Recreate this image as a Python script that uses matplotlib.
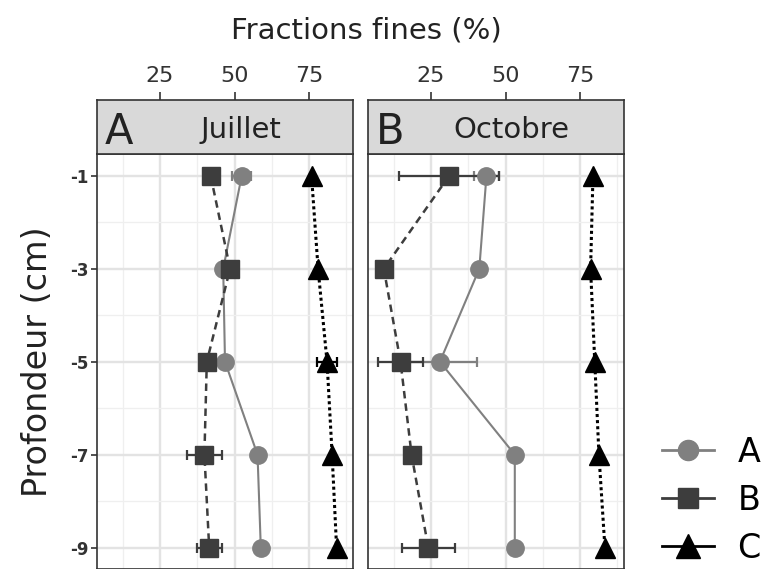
import numpy as np
import matplotlib
matplotlib.use("Agg")
import matplotlib.pyplot as plt
from matplotlib.lines import Line2D
from matplotlib.ticker import MultipleLocator

plt.rcParams["axes.unicode_minus"] = False

# data
depths = [-1, -3, -5, -7, -9]
panels = ["Juillet", "Octobre"]
letters = ["A", "B"]

# Juillet
jul_A = [52.4, 46.2, 46.8, 57.7, 58.8]
jul_A_err = [3.2, 0, 0, 0, 0]
jul_B = [42.0, 48.5, 40.7, 39.9, 41.5]
jul_B_err = [0, 1.5, 1.5, 6.0, 4.2]
jul_C = [75.8, 78.0, 81.0, 82.7, 84.2]
jul_C_err = [0, 0, 3.5, 0, 0]

# Octobre
oct_A = [43.6, 41.2, 28.0, 53.1, 53.1]
oct_A_err = [4.3, 0, 12.5, 0, 0]
oct_B = [31.1, 9.2, 14.8, 18.5, 24.1]
oct_B_err = [16.7, 0, 7.5, 2.0, 8.9]
oct_C = [79.3, 78.5, 79.9, 81.3, 83.3]
oct_C_err = [0, 0, 0, 0, 0]

series = ["A", "B", "C"]
colors = {"A": "#808080", "B": "#3d3d3d", "C": "#000000"}
markers = {"A": "o", "B": "s", "C": "^"}
msizes = {"A": 12.5, "B": 13, "C": 15}
styles = {"A": "-", "B": (0, (3, 2)), "C": (0, (1, 1))}
lwidths = {"A": 1.5, "B": 1.8, "C": 2.2}

data = [
    {"A": (jul_A, jul_A_err), "B": (jul_B, jul_B_err), "C": (jul_C, jul_C_err)},
    {"A": (oct_A, oct_A_err), "B": (oct_B, oct_B_err), "C": (oct_C, oct_C_err)},
]

W, H = 769, 569
fig = plt.figure(figsize=(W / 100, H / 100), dpi=100)

xlim = (4, 89.8)
ylim = (-9.46, -0.53)
panel_lefts = [97.3, 368.3]
pw = 256
top_px = 154
strip_h = 54
dark = "#333333"

for i, name in enumerate(panels):
    ax = fig.add_axes([panel_lefts[i] / W, 0, pw / W, (H - top_px) / H])
    ax.set_xlim(xlim)
    ax.set_ylim(ylim)
    ax.xaxis.set_major_locator(MultipleLocator(25))
    ax.xaxis.set_minor_locator(MultipleLocator(12.5))
    ax.set_yticks(depths)
    ax.yaxis.set_minor_locator(MultipleLocator(1))
    ax.grid(which="major", color="#e3e3e3", lw=1.7)
    ax.grid(which="minor", color="#efefef", lw=0.9)
    ax.set_axisbelow(True)
    ax.tick_params(axis="x", which="both", bottom=False, labelbottom=False)
    ax.tick_params(axis="y", which="minor", left=False)
    if i == 0:
        ax.tick_params(axis="y", which="major", length=4, width=1.2, color=dark,
                       labelsize=12, labelcolor=dark, pad=2)
        for lab in ax.get_yticklabels():
            lab.set_fontweight("bold")
        ax.set_ylabel("Profondeur (cm)", fontsize=24, labelpad=12, color="#222222")
    else:
        ax.tick_params(axis="y", which="major", left=False, labelleft=False)
    for sp in ax.spines.values():
        sp.set_color(dark)
        sp.set_linewidth(1.2)

    for s in series:
        vals, err = data[i][s]
        ax.errorbar(vals, depths, xerr=err, fmt="none", ecolor=colors[s],
                    elinewidth=1.6, capsize=3.5, capthick=1.6, zorder=2)
        ax.plot(vals, depths, color=colors[s], ls=styles[s], lw=lwidths[s],
                marker=markers[s], ms=msizes[s], mec=colors[s], mfc=colors[s],
                zorder=3)

    # strip on top holding the x axis
    st = fig.add_axes([panel_lefts[i] / W, (H - top_px) / H, pw / W, strip_h / H])
    st.set_xlim(xlim)
    st.set_ylim(0, 1)
    st.set_facecolor("#d9d9d9")
    st.set_yticks([])
    st.xaxis.tick_top()
    st.set_xticks([25, 50, 75])
    st.tick_params(axis="x", length=6, width=1.2, color=dark, labelsize=16,
                   labelcolor=dark, pad=4)
    for sp in st.spines.values():
        sp.set_color(dark)
        sp.set_linewidth(1.2)
    st.text(0.03, 0.40, letters[i], transform=st.transAxes, fontsize=30,
            ha="left", va="center", color="#222222")
    st.text(0.56, 0.45, name, transform=st.transAxes, fontsize=21,
            ha="center", va="center", color="#222222")

fig.text(366 / W, 1 - 31 / H, "Fractions fines (%)", fontsize=21,
         ha="center", va="center", color="#222222")

handles = [Line2D([0], [0], color=colors[s], lw=2, marker=markers[s],
                  ms=msizes[s] + 2, mfc=colors[s], mec=colors[s]) for s in series]
fig.legend(handles, series, loc="center left", bbox_to_anchor=(662 / W, 1 - 500 / H),
           frameon=False, fontsize=24, handlelength=1.56, handletextpad=0.7,
           labelspacing=0.45, borderpad=0, borderaxespad=0)

fig.savefig("out.png", dpi=100)
